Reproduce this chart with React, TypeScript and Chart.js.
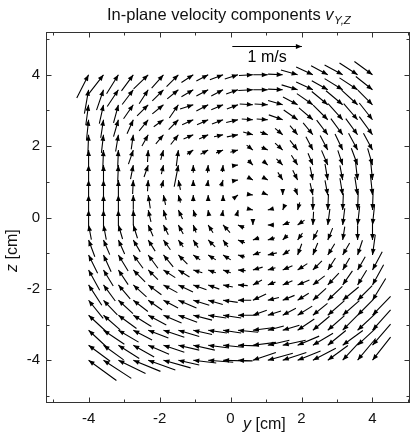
import React, { useEffect, useRef } from 'react';
import { Chart, registerables } from 'chart.js';

Chart.register(...registerables);

// Grid positions (cm): columns along y, rows along z (row 0 = top)
const gridY = [-4.0, -3.58, -3.16, -2.74, -2.32, -1.89, -1.47, -1.05, -0.63, -0.21, 0.21, 0.63, 1.05, 1.47, 1.89, 2.32, 2.74, 3.16, 3.58, 4.0];
const gridZ = [4.0, 3.58, 3.16, 2.74, 2.32, 1.89, 1.47, 1.05, 0.63, 0.21, -0.21, -0.63, -1.05, -1.47, -1.89, -2.32, -2.74, -3.16, -3.58, -4.0];

// In-plane velocity component v_Y (m/s), one row per z position
const vY: number[][] = [
  [0.17, 0.21, 0.17, 0.17, 0.21, 0.17, 0.17, 0.17, 0.17, 0.19, 0.19, 0.2, 0.21, 0.21, 0.24, 0.24, 0.24, 0.26, 0.26, 0.26],
  [0.06, 0.1, 0.16, 0.16, 0.13, 0.16, 0.16, 0.17, 0.17, 0.17, 0.17, 0.21, 0.21, 0.21, 0.23, 0.24, 0.23, 0.26, 0.26, 0.24],
  [0.04, 0.06, 0.07, 0.14, 0.16, 0.16, 0.13, 0.19, 0.17, 0.17, 0.16, 0.19, 0.19, 0.21, 0.21, 0.23, 0.23, 0.24, 0.23, 0.21],
  [0.03, 0.04, 0.07, 0.09, 0.13, 0.14, 0.14, 0.16, 0.16, 0.16, 0.17, 0.16, 0.16, 0.2, 0.2, 0.2, 0.21, 0.21, 0.2, 0.19],
  [0.01, 0.03, 0.04, 0.03, 0.09, 0.11, 0.11, 0.14, 0.13, 0.13, 0.16, 0.14, 0.11, 0.11, 0.11, 0.14, 0.16, 0.17, 0.17, 0.19],
  [0.0, 0.01, 0.01, 0.07, 0.01, 0.04, 0.03, 0.09, 0.11, 0.1, 0.11, 0.09, 0.09, 0.11, 0.11, 0.1, 0.11, 0.11, 0.13, 0.13],
  [0.0, 0.0, 0.01, 0.04, 0.06, 0.03, 0.06, 0.0, 0.01, 0.01, 0.07, 0.07, 0.07, 0.09, 0.09, 0.07, 0.09, 0.07, 0.09, 0.07],
  [0.0, 0.0, 0.0, 0.01, 0.01, 0.03, -0.03, 0.0, 0.01, 0.03, 0.06, 0.07, 0.07, 0.07, 0.07, 0.04, 0.04, 0.04, 0.03, 0.03],
  [0.0, 0.0, 0.0, 0.0, -0.03, -0.03, -0.03, 0.0, 0.0, 0.0, 0.04, 0.06, 0.07, 0.0, 0.04, 0.04, 0.04, 0.04, 0.04, 0.03],
  [0.0, 0.0, 0.0, -0.01, -0.04, -0.04, -0.06, -0.03, -0.01, 0.01, 0.01, 0.04, -0.04, -0.03, -0.03, 0.0, -0.01, -0.01, -0.01, -0.01],
  [-0.04, -0.04, -0.06, -0.06, -0.07, -0.07, -0.07, -0.04, -0.07, -0.1, -0.09, 0.0, -0.09, -0.1, -0.1, -0.01, -0.03, -0.03, -0.03, -0.03],
  [-0.09, -0.09, -0.09, -0.1, -0.1, -0.1, -0.07, -0.07, -0.1, -0.07, -0.1, -0.09, -0.1, -0.07, -0.07, -0.07, -0.07, -0.03, 0.0, 0.0],
  [-0.13, -0.11, -0.14, -0.14, -0.14, -0.14, -0.13, -0.1, -0.11, -0.11, -0.1, -0.11, -0.13, -0.1, -0.06, -0.07, -0.1, -0.1, -0.07, -0.04],
  [-0.16, -0.14, -0.14, -0.17, -0.14, -0.17, -0.16, -0.13, -0.11, -0.11, -0.11, -0.14, -0.11, -0.14, -0.14, -0.13, -0.11, -0.1, -0.11, -0.14],
  [-0.19, -0.17, -0.17, -0.19, -0.19, -0.2, -0.21, -0.19, -0.16, -0.14, -0.14, -0.13, -0.11, -0.14, -0.17, -0.17, -0.16, -0.14, -0.13, -0.16],
  [-0.21, -0.2, -0.21, -0.21, -0.2, -0.21, -0.26, -0.23, -0.21, -0.21, -0.19, -0.19, -0.16, -0.17, -0.16, -0.19, -0.21, -0.23, -0.21, -0.19],
  [-0.26, -0.24, -0.26, -0.26, -0.26, -0.26, -0.27, -0.27, -0.26, -0.26, -0.27, -0.2, -0.19, -0.19, -0.21, -0.21, -0.24, -0.24, -0.23, -0.26],
  [-0.26, -0.3, -0.29, -0.27, -0.29, -0.3, -0.3, -0.27, -0.27, -0.26, -0.29, -0.31, -0.23, -0.24, -0.24, -0.24, -0.24, -0.24, -0.26, -0.26],
  [-0.31, -0.29, -0.3, -0.3, -0.3, -0.3, -0.3, -0.31, -0.3, -0.29, -0.3, -0.33, -0.31, -0.33, -0.31, -0.29, -0.26, -0.29, -0.26, -0.26],
  [-0.4, -0.4, -0.39, -0.39, -0.39, -0.39, -0.3, -0.33, -0.36, -0.3, -0.21, -0.33, -0.36, -0.34, -0.33, -0.33, -0.29, -0.24, -0.26, -0.26],
];

// In-plane velocity component v_Z (m/s), one row per z position
const vZ: number[][] = [
  [0.33, 0.27, 0.27, 0.23, 0.2, 0.19, 0.17, 0.11, 0.09, 0.07, 0.06, 0.01, 0.0, -0.01, -0.07, -0.11, -0.13, -0.14, -0.17, -0.19],
  [0.34, 0.29, 0.24, 0.21, 0.2, 0.16, 0.13, 0.1, 0.09, 0.09, 0.06, 0.01, 0.0, -0.01, -0.07, -0.11, -0.13, -0.16, -0.17, -0.19],
  [0.29, 0.27, 0.26, 0.2, 0.16, 0.13, 0.19, 0.06, 0.09, 0.07, 0.06, -0.01, -0.01, -0.06, -0.11, -0.16, -0.19, -0.2, -0.21, -0.21],
  [0.29, 0.26, 0.24, 0.2, 0.16, 0.1, 0.14, 0.07, 0.07, 0.06, 0.04, -0.01, -0.01, -0.07, -0.14, -0.17, -0.21, -0.23, -0.23, -0.24],
  [0.27, 0.26, 0.24, 0.21, 0.16, 0.13, 0.14, 0.06, 0.06, 0.03, 0.03, -0.04, -0.04, -0.09, -0.13, -0.17, -0.21, -0.23, -0.23, -0.26],
  [0.26, 0.26, 0.24, 0.2, 0.17, 0.14, 0.23, 0.06, 0.06, 0.04, 0.03, -0.07, -0.04, -0.1, -0.14, -0.19, -0.21, -0.23, -0.24, -0.24],
  [0.24, 0.26, 0.24, 0.2, 0.17, 0.13, 0.31, 0.11, 0.11, 0.1, 0.01, -0.07, -0.06, -0.09, -0.14, -0.17, -0.21, -0.21, -0.24, -0.24],
  [0.24, 0.24, 0.24, 0.2, 0.16, 0.11, 0.14, 0.07, 0.07, 0.09, 0.01, -0.04, -0.04, -0.11, -0.14, -0.19, -0.23, -0.21, -0.26, -0.3],
  [0.24, 0.24, 0.24, 0.21, 0.19, 0.14, 0.11, 0.09, 0.07, 0.07, 0.03, -0.01, -0.03, -0.07, -0.1, -0.17, -0.21, -0.24, -0.26, -0.29],
  [0.24, 0.24, 0.23, 0.21, 0.17, 0.14, 0.13, 0.1, 0.07, 0.06, 0.04, -0.01, -0.01, -0.07, -0.11, -0.19, -0.23, -0.24, -0.27, -0.3],
  [0.21, 0.21, 0.2, 0.19, 0.16, 0.14, 0.13, 0.11, 0.11, 0.11, 0.04, -0.06, 0.0, -0.04, -0.07, -0.19, -0.23, -0.24, -0.27, -0.29],
  [0.24, 0.21, 0.2, 0.17, 0.16, 0.14, 0.1, 0.11, 0.1, 0.1, 0.04, -0.03, -0.03, -0.07, -0.1, -0.14, -0.17, -0.19, -0.21, -0.24],
  [0.26, 0.24, 0.23, 0.19, 0.19, 0.17, 0.13, 0.07, 0.07, 0.07, 0.03, -0.04, -0.03, -0.07, -0.16, -0.17, -0.16, -0.17, -0.21, -0.29],
  [0.29, 0.23, 0.21, 0.17, 0.14, 0.11, 0.1, 0.04, 0.04, 0.04, 0.01, -0.04, -0.03, -0.06, -0.09, -0.13, -0.17, -0.17, -0.19, -0.26],
  [0.29, 0.23, 0.2, 0.17, 0.14, 0.11, 0.1, 0.07, 0.06, 0.03, 0.01, -0.07, -0.04, -0.06, -0.07, -0.13, -0.17, -0.2, -0.21, -0.29],
  [0.26, 0.21, 0.19, 0.16, 0.14, 0.11, 0.11, 0.07, 0.06, 0.03, 0.0, -0.09, -0.04, -0.07, -0.1, -0.17, -0.2, -0.19, -0.21, -0.31],
  [0.24, 0.21, 0.19, 0.16, 0.14, 0.11, 0.1, 0.07, 0.04, 0.04, 0.0, -0.07, -0.06, -0.1, -0.13, -0.17, -0.21, -0.21, -0.23, -0.27],
  [0.24, 0.2, 0.17, 0.14, 0.11, 0.1, 0.09, 0.06, 0.04, 0.04, 0.03, -0.04, -0.06, -0.07, -0.16, -0.2, -0.21, -0.24, -0.24, -0.29],
  [0.23, 0.21, 0.19, 0.17, 0.13, 0.1, 0.07, 0.07, 0.04, 0.03, 0.01, -0.04, -0.07, -0.07, -0.13, -0.17, -0.21, -0.21, -0.24, -0.3],
  [0.29, 0.26, 0.19, 0.16, 0.14, 0.11, 0.07, 0.04, 0.03, 0.01, 0.01, -0.11, -0.1, -0.11, -0.13, -0.17, -0.21, -0.26, -0.31, -0.33],
];

// Axis ticks
const tickValues = [-5, -4, -3, -2, -1, 0, 1, 2, 3, 4, 5];
const labeledTicks = [-4, -2, 0, 2, 4];

// Reference arrow (1 m/s)
const refSpeed = 1;
const refLabel = '1 m/s';
const refStartY = 0.05;
const refZ = 4.8;

const CM_PER_MS = 1.96; // arrow length scale: cm per (m/s)
const FONT = '"Liberation Sans", Arial, Helvetica, sans-serif';

type Seg = { x: number | null; y: number | null };

function buildSegments(): Seg[] {
  const out: Seg[] = [];
  for (let j = 0; j < gridZ.length; j++) {
    for (let i = 0; i < gridY.length; i++) {
      const hx = gridY[i];
      const hy = gridZ[j];
      const tx = hx - vY[j][i] * CM_PER_MS;
      const ty = hy - vZ[j][i] * CM_PER_MS;
      out.push({ x: tx, y: ty }, { x: hx, y: hy }, { x: null, y: null });
    }
  }
  return out;
}

function drawHead(ctx: CanvasRenderingContext2D, tx: number, ty: number, hx: number, hy: number) {
  const dx = hx - tx;
  const dy = hy - ty;
  const len = Math.hypot(dx, dy);
  if (len < 0.01) return;
  const ux = dx / len;
  const uy = dy / len;
  const L = 6;
  const W = 2.4;
  const bx = hx - ux * L;
  const by = hy - uy * L;
  ctx.beginPath();
  ctx.moveTo(hx, hy);
  ctx.lineTo(bx - uy * W, by + ux * W);
  ctx.lineTo(bx + uy * W, by - ux * W);
  ctx.closePath();
  ctx.fill();
}

const quiverPlugin = {
  id: 'quiverDecor',
  afterDatasetsDraw(chart: any) {
    const ctx: CanvasRenderingContext2D = chart.ctx;
    const xs = chart.scales.x;
    const ys = chart.scales.y;
    ctx.save();
    ctx.fillStyle = '#000';
    for (let j = 0; j < gridZ.length; j++) {
      for (let i = 0; i < gridY.length; i++) {
        const hxv = gridY[i];
        const hyv = gridZ[j];
        const txv = hxv - vY[j][i] * CM_PER_MS;
        const tyv = hyv - vZ[j][i] * CM_PER_MS;
        drawHead(
          ctx,
          xs.getPixelForValue(txv),
          ys.getPixelForValue(tyv),
          xs.getPixelForValue(hxv),
          ys.getPixelForValue(hyv)
        );
      }
    }
    ctx.restore();
  },
  afterDraw(chart: any) {
    const ctx: CanvasRenderingContext2D = chart.ctx;
    const xs = chart.scales.x;
    const ys = chart.scales.y;
    const a = chart.chartArea;
    ctx.save();
    // frame
    ctx.strokeStyle = '#333';
    ctx.lineWidth = 1;
    const L = Math.round(a.left) + 0.5;
    const R = Math.round(a.right) - 0.5;
    const T = Math.round(a.top) + 0.5;
    const B = Math.round(a.bottom) - 0.5;
    ctx.strokeRect(L, T, R - L, B - T);
    // ticks (inward, all four sides)
    ctx.beginPath();
    for (const v of tickValues) {
      const len = v % 2 === 0 ? 5 : 3;
      const px = Math.round(xs.getPixelForValue(v)) + 0.5;
      if (px > L && px < R) {
        ctx.moveTo(px, B);
        ctx.lineTo(px, B - len);
        ctx.moveTo(px, T);
        ctx.lineTo(px, T + len);
      }
      const py = Math.round(ys.getPixelForValue(v)) + 0.5;
      if (py > T && py < B) {
        ctx.moveTo(L, py);
        ctx.lineTo(L + len, py);
        ctx.moveTo(R, py);
        ctx.lineTo(R - len, py);
      }
    }
    ctx.stroke();

    // reference arrow
    ctx.strokeStyle = '#000';
    ctx.fillStyle = '#000';
    ctx.lineWidth = 1.1;
    const rx0 = xs.getPixelForValue(refStartY);
    const rx1 = xs.getPixelForValue(refStartY + refSpeed * CM_PER_MS);
    const ry = Math.round(ys.getPixelForValue(refZ)) + 0.5;
    ctx.beginPath();
    ctx.moveTo(rx0, ry);
    ctx.lineTo(rx1, ry);
    ctx.stroke();
    drawHead(ctx, rx0, ry, rx1, ry);
    ctx.font = `16px ${FONT}`;
    ctx.textAlign = 'center';
    ctx.textBaseline = 'alphabetic';
    ctx.fillText(refLabel, (rx0 + rx1) / 2, ry + 15);

    // title
    ctx.textAlign = 'left';
    ctx.fillStyle = '#111';
    const t1 = 'In-plane velocity components ';
    ctx.font = `16.5px ${FONT}`;
    let x = 107;
    const by = 20;
    ctx.fillText(t1, x, by);
    x += ctx.measureText(t1).width;
    ctx.font = `italic 16.5px ${FONT}`;
    ctx.fillText('v', x, by);
    x += ctx.measureText('v').width + 0.5;
    ctx.font = `italic 11.5px ${FONT}`;
    ctx.fillText('Y,Z', x, by + 4);

    // x axis title
    ctx.font = `italic 16px ${FONT}`;
    let ax = 243;
    const ab = 429;
    ctx.fillText('y', ax, ab);
    ax += ctx.measureText('y').width;
    ctx.font = `16px ${FONT}`;
    ctx.fillText(' [cm]', ax, ab);

    // y axis title (rotated)
    ctx.translate(17, 272);
    ctx.rotate(-Math.PI / 2);
    ctx.font = `italic 16px ${FONT}`;
    ctx.fillText('z', 0, 0);
    const zw = ctx.measureText('z').width;
    ctx.font = `16px ${FONT}`;
    ctx.fillText(' [cm]', zw, 0);
    ctx.restore();
  },
};

export default function App() {
  const ref = useRef<HTMLCanvasElement>(null);
  useEffect(() => {
    document.body.style.margin = '0';
    const canvas = ref.current;
    if (!canvas) return;
    const tickFont = { family: FONT, size: 15 };
    const chart = new Chart(canvas, {
      type: 'scatter',
      data: {
        datasets: [
          {
            data: buildSegments() as any,
            showLine: true,
            spanGaps: false,
            borderColor: '#000',
            borderWidth: 1.1,
            pointRadius: 0,
            pointHoverRadius: 0,
            fill: false,
            tension: 0,
          } as any,
        ],
      },
      options: {
        animation: false,
        responsive: false,
        events: [],
        layout: { padding: { top: 32, right: 3, left: 0, bottom: 0 } },
        plugins: {
          legend: { display: false },
          tooltip: { enabled: false },
          title: { display: false },
        },
        scales: {
          x: {
            type: 'linear',
            min: -5.2,
            max: 5.05,
            grid: { display: false, drawTicks: false },
            border: { display: false },
            afterBuildTicks: (s: any) => {
              s.ticks = tickValues.map((v) => ({ value: v }));
            },
            afterFit: (s: any) => {
              s.height = 33;
            },
            ticks: {
              autoSkip: false,
              maxRotation: 0,
              padding: 7,
              color: '#111',
              font: tickFont,
              callback: (v: any) => (labeledTicks.includes(Number(v)) ? String(v) : ''),
            },
          },
          y: {
            type: 'linear',
            min: -5.2,
            max: 5.2,
            grid: { display: false, drawTicks: false },
            border: { display: false },
            afterBuildTicks: (s: any) => {
              s.ticks = tickValues.map((v) => ({ value: v }));
            },
            afterFit: (s: any) => {
              s.width = 46;
            },
            ticks: {
              autoSkip: false,
              padding: 6,
              color: '#111',
              font: tickFont,
              callback: (v: any) => (labeledTicks.includes(Number(v)) ? String(v) : ''),
            },
          },
        },
      } as any,
      plugins: [quiverPlugin],
    });
    return () => chart.destroy();
  }, []);
  return <canvas ref={ref} width={415} height={436} style={{ display: 'block' }} />;
}
